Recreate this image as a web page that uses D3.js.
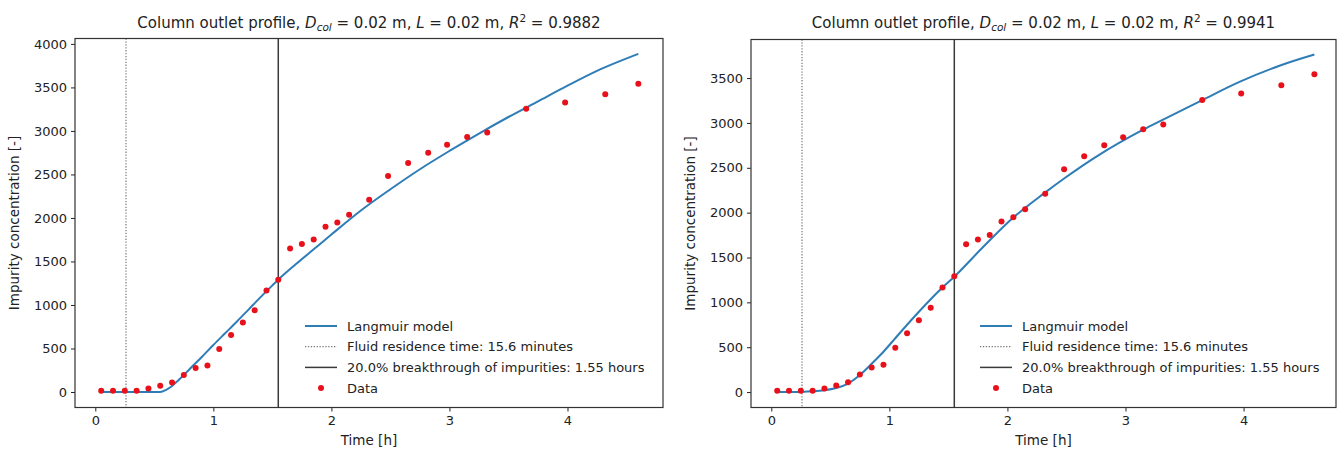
<!DOCTYPE html>
<html>
<head>
<meta charset="utf-8">
<script src="https://cdn.jsdelivr.net/npm/d3@7"></script>
<style>
  body { margin: 0; background: #fff; }
  svg { display: block; font-family: "DejaVu Sans", sans-serif; }
</style>
</head>
<body>
<svg id="chart" width="1338" height="449"></svg>
<script>
// measured data (same for both panels)
const dataTime = [0.05, 0.15, 0.25, 0.35, 0.45, 0.55, 0.65, 0.75, 0.85, 0.95, 1.05, 1.15, 1.25, 1.35, 1.45, 1.55,
  1.65, 1.75, 1.85, 1.95, 2.05, 2.15, 2.32, 2.48, 2.65, 2.82, 2.98, 3.15, 3.32, 3.65, 3.98, 4.32, 4.6];
const dataConc = [15, 15, 15, 15, 40, 72, 110, 195, 275, 305, 495, 655, 800, 940, 1165, 1290,
  1648, 1700, 1752, 1900, 1948, 2037, 2210, 2483, 2630, 2750, 2840, 2930, 2982, 3255, 3328, 3420, 3542];

// Langmuir model curves
const modelTimeLeft = [0.05, 0.3, 0.55, 0.6, 0.65, 0.7, 0.8, 0.9, 1.0, 1.1, 1.2, 1.3, 1.4, 1.5, 1.55,
  1.7, 1.85, 2.0, 2.25, 2.5, 2.75, 3.0, 3.25, 3.5, 3.75, 4.0, 4.25, 4.6];
const modelConcLeft = [0, 0, 0, 25, 70, 130, 265, 400, 540, 675, 810, 950, 1090, 1225, 1291,
  1470, 1640, 1810, 2086, 2330, 2560, 2770, 2970, 3160, 3340, 3520, 3690, 3885];

const modelTimeRight = [0.05, 0.15, 0.25, 0.35, 0.45, 0.55, 0.65, 0.75, 0.85, 0.95, 1.05, 1.15, 1.25, 1.35, 1.45, 1.55,
  1.8, 2.05, 2.31, 2.48, 2.76, 3.15, 3.31, 3.65, 3.97, 4.31, 4.6];
const modelConcRight = [0, 0, 2, 8, 20, 45, 95, 190, 315, 450, 600, 750, 895, 1035, 1165, 1286,
  1625, 1945, 2215, 2380, 2630, 2925, 3032, 3255, 3460, 3640, 3762];

const residenceTime = 15.6 / 60;   // hours
const breakthroughTime = 1.55;     // hours

const xTicks = [0, 1, 2, 3, 4];
const yTicksLeft = [0, 500, 1000, 1500, 2000, 2500, 3000, 3500, 4000];
const yTicksRight = [0, 500, 1000, 1500, 2000, 2500, 3000, 3500];
const r2Values = ["0.9882", "0.9941"];
const legendLabels = ["Langmuir model", "Fluid residence time: 15.6 minutes",
  "20.0% breakthrough of impurities: 1.55 hours", "Data"];

const svg = d3.select("#chart");
const BLUE = "#2e7db7", RED = "#e8101a", DARK = "#3a3a3a";

function drawPanel(opt) {
  const g = svg.append("g");
  const x = d3.scaleLinear().domain(opt.xDomain).range([opt.left, opt.right]);
  const y = d3.scaleLinear().domain(opt.yDomain).range([opt.bottom, opt.top]);

  // vertical markers
  g.append("line")
    .attr("x1", x(residenceTime)).attr("x2", x(residenceTime))
    .attr("y1", opt.top).attr("y2", opt.bottom)
    .attr("stroke", "#777").attr("stroke-width", 1.2)
    .attr("stroke-dasharray", "1.3,1.6");
  g.append("line")
    .attr("x1", x(breakthroughTime)).attr("x2", x(breakthroughTime))
    .attr("y1", opt.top).attr("y2", opt.bottom)
    .attr("stroke", DARK).attr("stroke-width", 1.5);

  // model curve
  const line = d3.line()
    .x((d, i) => x(opt.modelT[i]))
    .y(d => y(d))
    .curve(d3.curveMonotoneX);
  g.append("path")
    .datum(opt.modelC)
    .attr("d", line)
    .attr("fill", "none")
    .attr("stroke", BLUE)
    .attr("stroke-width", 2);

  // data points
  g.selectAll("circle.pt")
    .data(dataConc)
    .join("circle")
    .attr("class", "pt")
    .attr("cx", (d, i) => x(dataTime[i]))
    .attr("cy", d => y(d))
    .attr("r", 3)
    .attr("fill", RED);

  // axes
  const xAxis = d3.axisBottom(x).tickValues(xTicks).tickSize(4).tickPadding(4).tickFormat(d3.format("d"));
  const yAxis = d3.axisLeft(y).tickValues(opt.yTicks).tickSize(4).tickPadding(4).tickFormat(d3.format("d"));
  const gx = g.append("g").attr("transform", `translate(0,${opt.bottom})`).call(xAxis);
  const gy = g.append("g").attr("transform", `translate(${opt.left},0)`).call(yAxis);
  [gx, gy].forEach(a => {
    a.select(".domain").remove();
    a.selectAll("line").attr("stroke", "#222");
    a.selectAll("text").attr("font-size", 13).attr("fill", "#222")
      .attr("font-family", "DejaVu Sans");
  });

  // frame
  g.append("rect")
    .attr("x", opt.left).attr("y", opt.top)
    .attr("width", opt.right - opt.left).attr("height", opt.bottom - opt.top)
    .attr("fill", "none").attr("stroke", "#333").attr("stroke-width", 1.2);

  // axis labels
  const cx = (opt.left + opt.right) / 2;
  g.append("text")
    .attr("x", cx).attr("y", 445)
    .attr("text-anchor", "middle").attr("font-size", 13.5).attr("fill", "#222")
    .text("Time [h]");
  g.append("text")
    .attr("transform", `translate(${opt.yLabelX},${(opt.top + opt.bottom) / 2}) rotate(-90)`)
    .attr("text-anchor", "middle").attr("font-size", 13.5).attr("fill", "#222")
    .text("Impurity concentration [-]");

  // title with math parts
  const t = g.append("text")
    .attr("x", cx).attr("y", 28)
    .attr("text-anchor", "middle").attr("font-size", 15).attr("fill", "#222");
  t.append("tspan").text("Column outlet profile, ");
  t.append("tspan").attr("font-style", "italic").text("D");
  t.append("tspan").attr("font-style", "italic").attr("font-size", 10.5).attr("dy", 3).text("col");
  t.append("tspan").attr("dy", -3).text(" = 0.02 m, ");
  t.append("tspan").attr("font-style", "italic").text("L");
  t.append("tspan").text(" = 0.02 m, ");
  t.append("tspan").attr("font-style", "italic").text("R");
  t.append("tspan").attr("font-size", 10.5).attr("dy", -6).text("2");
  t.append("tspan").attr("dy", 6).text(" = " + opt.r2);

  // legend
  const lg = g.append("g").attr("transform", `translate(${opt.legendX},${opt.legendY})`);
  const rowH = 20.7;
  legendLabels.forEach((lab, i) => {
    const row = lg.append("g").attr("transform", `translate(0,${i * rowH})`);
    if (i === 0) {
      row.append("line").attr("x1", 0).attr("x2", 32).attr("stroke", BLUE).attr("stroke-width", 2);
    } else if (i === 1) {
      row.append("line").attr("x1", 0).attr("x2", 32).attr("stroke", "#777")
        .attr("stroke-width", 1.2).attr("stroke-dasharray", "1.3,1.6");
    } else if (i === 2) {
      row.append("line").attr("x1", 0).attr("x2", 32).attr("stroke", DARK).attr("stroke-width", 1.5);
    } else {
      row.append("circle").attr("cx", 16).attr("cy", 0).attr("r", 3).attr("fill", RED);
    }
    row.append("text").attr("x", 42).attr("y", 4.5)
      .attr("font-size", 13).attr("fill", "#222").text(lab);
  });
}

drawPanel({
  left: 75, right: 663, top: 38.5, bottom: 407.5,
  xDomain: [-0.172, 4.809], yDomain: [-178, 4062],
  yTicks: yTicksLeft, modelT: modelTimeLeft, modelC: modelConcLeft,
  r2: r2Values[0], yLabelX: 19, legendX: 305, legendY: 326
});
drawPanel({
  left: 751, right: 1336, top: 39.5, bottom: 407.5,
  xDomain: [-0.172, 4.783], yDomain: [-172, 3930],
  yTicks: yTicksRight, modelT: modelTimeRight, modelC: modelConcRight,
  r2: r2Values[1], yLabelX: 695, legendX: 980, legendY: 326
});
</script>
</body>
</html>
